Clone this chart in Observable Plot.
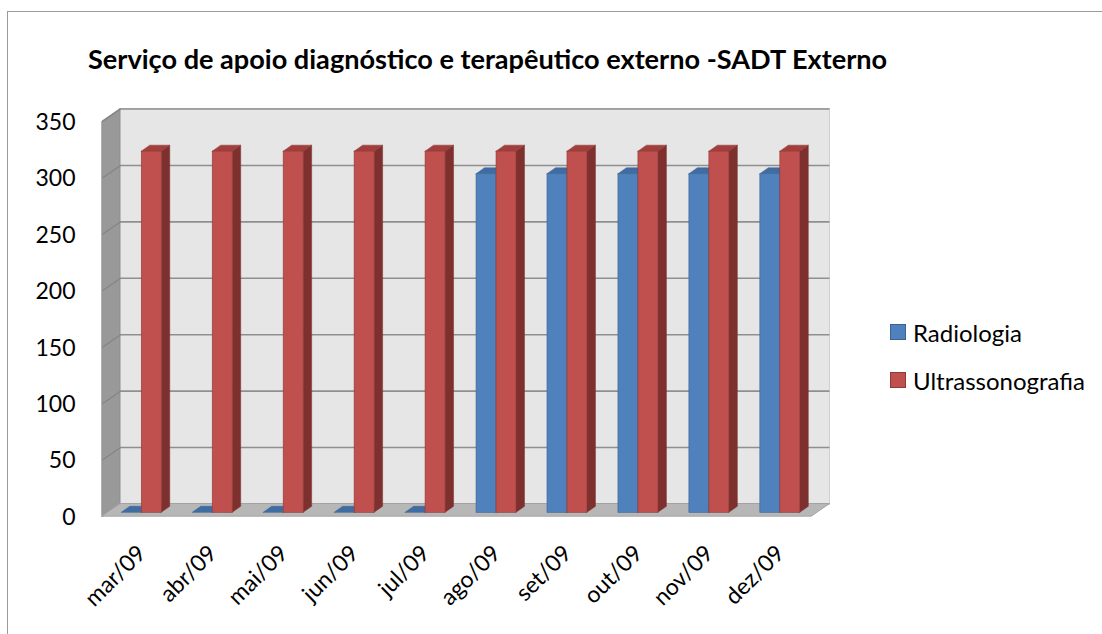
<!DOCTYPE html>
<html>
<head>
<meta charset="utf-8">
<script src="https://cdn.jsdelivr.net/npm/d3@7"></script>
<script src="https://cdn.jsdelivr.net/npm/@observablehq/plot@0.6"></script>
<style>
  body { margin: 0; background: #fff; }
  #chart { position: relative; width: 1102px; height: 634px; overflow: hidden; font-family: Lato, "Open Sans", sans-serif; color: #000; }
  #frame { position: absolute; left: 7px; top: 11px; width: 1200px; height: 700px; border: 1.5px solid #9a9a9a; pointer-events: none; }
  #title { position: relative; height: 92px; }
  #title span { position: absolute; left: 88px; top: 45px; font-weight: 700; font-size: 27px; line-height: 1; white-space: nowrap; }
  #plot { position: relative; height: 542px; }
  #legend { position: absolute; left: 890px; top: 308px; font-size: 24px; }
  #legend .row { display: flex; align-items: center; height: 48px; }
  #legend .sw { width: 14px; height: 14px; border: 1px solid; margin-right: 7px; }
</style>
</head>
<body>
<div id="chart">
  <div id="frame"></div>
  <div id="title"><span id="titleText"></span></div>
  <div id="plot"></div>
  <div id="legend"></div>
</div>
<script>
// ---- data ----
const title = "Serviço de apoio diagnóstico e terapêutico externo -SADT Externo";
const months = ["mar/09", "abr/09", "mai/09", "jun/09", "jul/09", "ago/09", "set/09", "out/09", "nov/09", "dez/09"];
const radiologia = [0, 0, 0, 0, 0, 300, 300, 300, 300, 300];
const ultrassonografia = [320, 320, 320, 320, 320, 320, 320, 320, 320, 320];
const yTicks = [0, 50, 100, 150, 200, 250, 300, 350];
const seriesNames = ["Radiologia", "Ultrassonografia"];
const seriesFront = ["#4f81bd", "#c0504d"];
const seriesSide = ["#375b87", "#7e302e"];
const seriesTop = ["#3f6ca3", "#a23f3c"];
const seriesEdge = ["#3a6393", "#8d3936"];

// ---- layout ----
const W = 1102, H = 542;
const ML = 102, MR = 290.5, MT = 29, MB = 118;
const n = months.length;
const yMax = yTicks[yTicks.length - 1];
const kx = (W - ML - MR) / n;
const ky = (H - MT - MB) / yMax;
const ux = px => px / kx, uy = px => px / ky;
const WDX = 18, WDY = 12.5;      // wall depth (px)
const BOX = 5.3, BOY = 3.7;      // bar front offset (px)
const BDX = 8.5, BDY = 6;        // bar depth (px)
const slots = [[14 / 71, 34 / 71], [34 / 71, 54 / 71]];

// title, fitted to the reference width
const titleEl = document.getElementById("titleText");
titleEl.textContent = title;
(function fitTitle() {
  const c = document.createElement("canvas").getContext("2d");
  c.font = "700 100px Lato, 'Open Sans', sans-serif";
  const w = c.measureText(title).width;
  if (w > 0) {
    const size = Math.min(30, Math.max(22, 100 * 800 / w));
    titleEl.style.fontSize = size.toFixed(2) + "px";
  }
})();

const values = [radiologia, ultrassonografia];
const bars = [];
values.forEach((vals, s) => vals.forEach((v, i) => bars.push({s, i, v, x1: i + slots[s][0], x2: i + slots[s][1], id: s + "-" + i})));

const sideFaces = bars.flatMap(b => [
  {s: b.s, id: b.id, x: b.x2, y1: 0, y2: b.v},
  {s: b.s, id: b.id, x: b.x2 + ux(BDX), y1: uy(BDY), y2: b.v + uy(BDY)}
]);
const topFaces = bars.flatMap(b => [
  {s: b.s, id: b.id, y: b.v, x1: b.x1, x2: b.x2},
  {s: b.s, id: b.id, y: b.v + uy(BDY), x1: b.x1 + ux(BDX), x2: b.x2 + ux(BDX)}
]);

const sideWall = [
  {x: 0, y1: 0, y2: yMax},
  {x: ux(WDX), y1: uy(WDY), y2: yMax + uy(WDY)}
];
const floor = [
  {y: 0, x1: 0, x2: n},
  {y: uy(WDY), x1: ux(WDX), x2: n + ux(WDX)}
];

const barMarks = [];
[0, 1].forEach(s => {
  const sb = bars.filter(b => b.s === s);
  barMarks.push(
    Plot.areaY(sideFaces.filter(d => d.s === s), {x: "x", y1: "y1", y2: "y2", z: "id", fill: seriesSide[s], stroke: seriesSide[s], strokeWidth: 0.5, dx: BOX, dy: -BOY}),
    Plot.areaX(topFaces.filter(d => d.s === s), {y: "y", x1: "x1", x2: "x2", z: "id", fill: seriesTop[s], stroke: seriesEdge[s], strokeWidth: 0.5, dx: BOX, dy: -BOY}),
    Plot.rect(sb.filter(b => b.v > 0), {x1: "x1", x2: "x2", y1: () => 0, y2: "v", fill: seriesFront[s], stroke: seriesEdge[s], strokeWidth: 0.6, dx: BOX, dy: -BOY})
  );
});

const chart = Plot.plot({
  width: W, height: H,
  marginLeft: ML, marginRight: MR, marginTop: MT, marginBottom: MB,
  style: {fontFamily: "Lato, 'Open Sans', sans-serif", fontSize: "23px", color: "#000", background: "transparent"},
  x: {domain: [0, n], axis: null},
  y: {domain: [0, yMax], axis: null},
  marks: [
    // back wall
    Plot.rect([yMax], {x1: () => 0, x2: () => n, y1: () => 0, y2: d => d, fill: "#e6e6e6", stroke: "#d0d0d0", strokeWidth: 1, dx: WDX, dy: -WDY}),
    // side wall
    Plot.areaY(sideWall, {x: "x", y1: "y1", y2: "y2", fill: "#999999", stroke: "#8c8c8c", strokeWidth: 0.8}),
    // gridlines back wall
    Plot.ruleY(yTicks, {x1: () => 0, x2: () => n, stroke: "#8f8f8f", strokeWidth: 1.6, dx: WDX, dy: -WDY}),
    // gridlines side wall
    Plot.link(yTicks, {x1: () => 0, y1: d => d, x2: () => ux(WDX), y2: d => d + uy(WDY), stroke: "#858585", strokeWidth: 1.2}),
    // floor
    Plot.areaX(floor, {y: "y", x1: "x1", x2: "x2", fill: "#b7b7b7", stroke: "#a3a3a3", strokeWidth: 1}),
    ...barMarks,
    // y axis labels
    Plot.text(yTicks, {x: () => 0, y: d => d, text: d => String(d), textAnchor: "end", dx: -27, dy: 1, fontSize: 23, fill: "#000"}),
    // x axis labels
    Plot.text(months, {x: (d, i) => i + 0.5, y: () => 0, text: d => d, rotate: -45, textAnchor: "end", lineAnchor: "middle", dx: 4, dy: 33, fontSize: 23, fill: "#000"})
  ]
});
document.getElementById("plot").appendChild(chart);

// legend
const legend = document.getElementById("legend");
seriesNames.forEach((name, s) => {
  const row = document.createElement("div");
  row.className = "row";
  const sw = document.createElement("div");
  sw.className = "sw";
  sw.style.background = seriesFront[s];
  sw.style.borderColor = seriesEdge[s];
  const t = document.createElement("span");
  t.textContent = name;
  row.appendChild(sw); row.appendChild(t);
  legend.appendChild(row);
});
</script>
</body>
</html>
